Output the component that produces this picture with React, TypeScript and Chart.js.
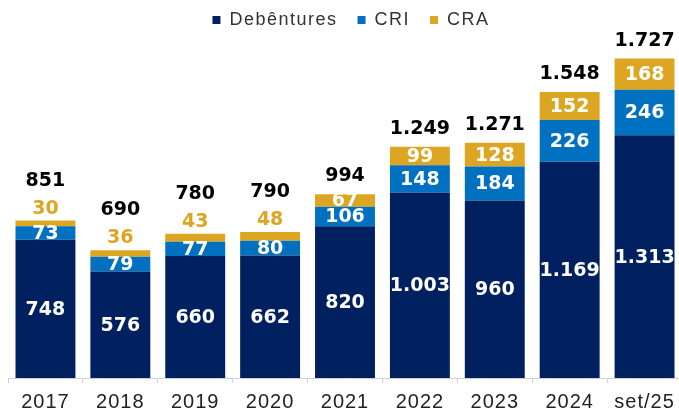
import React, { useEffect, useRef } from 'react';
import { Chart, registerables } from 'chart.js';

Chart.register(...registerables);

const categories = ['2017', '2018', '2019', '2020', '2021', '2022', '2023', '2024', 'set/25'];
const debentures = [748, 576, 660, 662, 820, 1003, 960, 1169, 1313];
const cri = [73, 79, 77, 80, 106, 148, 184, 226, 246];
const cra = [30, 36, 43, 48, 67, 99, 128, 152, 168];
const totals = [851, 690, 780, 790, 994, 1249, 1271, 1548, 1727];

const NAVY = '#002060';
const BLUE = '#0070C0';
const GOLD = '#DCA522';

const fmt = (n: number) => String(n).replace(/\B(?=(\d{3})+(?!\d))/g, '.');

const spacingPlugin = {
  id: 'spacing',
  afterInit(chart: any) {
    const lg = chart.legend;
    if (lg && !lg.__wrapped) {
      const origDraw = lg.draw.bind(lg);
      const origFit = lg.fit.bind(lg);
      lg.draw = function (...args: any[]) {
        const ctx = chart.ctx;
        const prev = ctx.letterSpacing;
        const t = this.top, b = this.bottom, l = this.left, r = this.right;
        this.top = t - 9;
        this.left = l + 6;
        this.right = r + 6;
        ctx.letterSpacing = '1.5px';
        origDraw(...args);
        ctx.letterSpacing = prev;
        this.top = t;
        this.bottom = b;
        this.left = l;
        this.right = r;
      };
      lg.fit = function (...args: any[]) {
        const ctx = chart.ctx;
        const prev = ctx.letterSpacing;
        ctx.letterSpacing = '1.5px';
        origFit(...args);
        ctx.letterSpacing = prev;
        this.height = Math.max(0, this.height - 9);
      };
      lg.__wrapped = true;
    }
  },
  beforeDraw(chart: any) {
    chart.ctx.letterSpacing = '1px';
  },
  beforeDatasetsDraw(chart: any) {
    chart.ctx.letterSpacing = '0px';
  },
};

const labelPlugin = {
  id: 'valueLabels',
  afterDatasetsDraw(chart: any) {
    const ctx = chart.ctx;
    ctx.save();
    ctx.letterSpacing = '0px';
    ctx.font = 'bold 19px "DejaVu Sans"';
    ctx.textAlign = 'center';
    ctx.textBaseline = 'middle';
    const m0 = chart.getDatasetMeta(0).data;
    const m1 = chart.getDatasetMeta(1).data;
    const m2 = chart.getDatasetMeta(2).data;
    categories.forEach((_, i) => {
      const d = m0[i];
      const c = m1[i];
      const a = m2[i];
      ctx.fillStyle = '#ffffff';
      ctx.fillText(fmt(debentures[i]), d.x, (d.y + d.base) / 2 + 1);
      ctx.fillText(fmt(cri[i]), c.x, (c.y + c.base) / 2 + 1);
      const top = a.y;
      const inside = a.base - a.y >= 12;
      let totalY;
      if (inside) {
        ctx.fillStyle = '#ffffff';
        ctx.fillText(fmt(cra[i]), a.x, (a.y + a.base) / 2 + 1);
        totalY = top - 18;
      } else {
        ctx.fillStyle = GOLD;
        ctx.fillText(fmt(cra[i]), a.x, top - 12);
        totalY = top - 40;
      }
      ctx.fillStyle = '#000000';
      ctx.fillText(fmt(totals[i]), a.x, totalY);
    });
    ctx.restore();
  },
};

export default function App() {
  const ref = useRef<HTMLCanvasElement | null>(null);
  useEffect(() => {
    if (!ref.current) return;
    const chart = new Chart(ref.current, {
      type: 'bar',
      data: {
        labels: categories,
        datasets: [
          { label: 'Debêntures', data: debentures, backgroundColor: NAVY },
          { label: 'CRI', data: cri, backgroundColor: BLUE },
          { label: 'CRA', data: cra, backgroundColor: GOLD },
        ],
      },
      options: {
        animation: false,
        responsive: true,
        maintainAspectRatio: false,
        layout: { padding: { left: 8, right: 8, top: 0, bottom: 0 } },
        datasets: { bar: { barPercentage: 0.8, categoryPercentage: 1 } } as any,
        plugins: {
          legend: {
            display: true,
            position: 'top',
            labels: {
              boxWidth: 8,
              boxHeight: 8,
              padding: 20,
              color: '#333333',
              font: { family: '"Liberation Sans", Arial, sans-serif', size: 18 },
            },
          },
          tooltip: { enabled: false },
        },
        scales: {
          x: {
            stacked: true,
            grid: { display: true, drawOnChartArea: false, drawTicks: true, tickLength: 5, color: '#cfcfcf', offset: true },
            border: { display: true, color: '#cfcfcf', width: 1 },
            ticks: {
              color: '#222222',
              padding: 7,
              font: { family: '"Liberation Sans", Arial, sans-serif', size: 20 },
              maxRotation: 0,
              autoSkip: false,
            },
          },
          y: {
            stacked: true,
            display: false,
            min: 0,
            max: 1833,
          },
        },
      },
      plugins: [spacingPlugin, labelPlugin],
    });
    return () => chart.destroy();
  }, []);
  return (
    <div style={{ position: 'fixed', left: 0, top: 0, width: 679, height: 414, overflow: 'hidden', background: '#ffffff' }}>
      <div style={{ position: 'relative', width: 690, height: 421 }}>
        <canvas ref={ref} />
      </div>
    </div>
  );
}
